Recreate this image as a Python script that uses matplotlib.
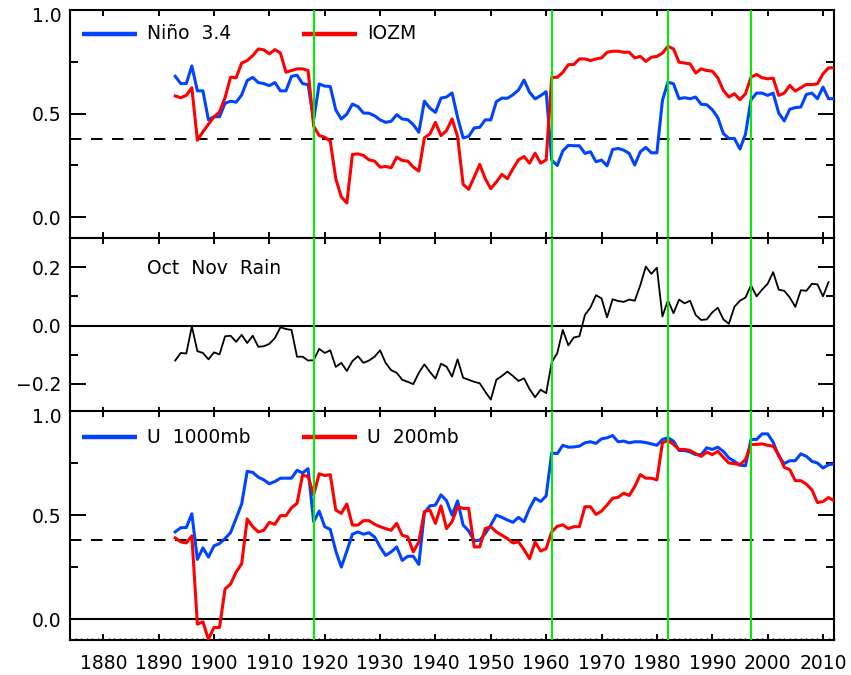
import numpy as np
import matplotlib
matplotlib.use("Agg")
import matplotlib.pyplot as plt
from matplotlib.ticker import MultipleLocator, FuncFormatter

# ---------------------------------------------------------------
# data (one value per year)
# ---------------------------------------------------------------
start_year = 1893

# top panel: Nino 3.4 and IOZM
nino34 = [0.68, 0.645, 0.645, 0.73, 0.61, 0.61, 0.47, 0.485, 0.485, 0.55,
          0.56, 0.555, 0.59, 0.66, 0.675, 0.65, 0.645, 0.635, 0.65, 0.61,
          0.61, 0.68, 0.685, 0.645, 0.64, 0.47, 0.643, 0.633, 0.631, 0.518,
          0.474, 0.498, 0.546, 0.534, 0.503, 0.502, 0.49, 0.47, 0.458, 0.463,
          0.495, 0.474, 0.471, 0.447, 0.41, 0.56, 0.527, 0.506, 0.575, 0.58,
          0.60, 0.482, 0.383, 0.39, 0.431, 0.434, 0.47, 0.47, 0.558, 0.575,
          0.574, 0.591, 0.614, 0.662, 0.603, 0.571, 0.587, 0.606, 0.275, 0.25,
          0.32, 0.347, 0.345, 0.345, 0.308, 0.316, 0.268, 0.276, 0.248, 0.327,
          0.332, 0.324, 0.308, 0.252, 0.316, 0.337, 0.311, 0.311, 0.564, 0.652,
          0.644, 0.572, 0.577, 0.572, 0.58, 0.545, 0.543, 0.519, 0.481, 0.404,
          0.38, 0.38, 0.329, 0.401, 0.567, 0.599, 0.599, 0.588, 0.599, 0.503,
          0.465, 0.521, 0.529, 0.532, 0.593, 0.599, 0.572, 0.628, 0.572, 0.572]

iozm = [0.585, 0.577, 0.588, 0.625, 0.372, 0.412, 0.449, 0.484, 0.508, 0.577,
        0.676, 0.673, 0.744, 0.756, 0.78, 0.812, 0.808, 0.788, 0.809, 0.792,
        0.70, 0.708, 0.716, 0.716, 0.708, 0.44, 0.394, 0.386, 0.367, 0.186,
        0.098, 0.069, 0.303, 0.306, 0.298, 0.277, 0.271, 0.242, 0.245, 0.239,
        0.29, 0.274, 0.271, 0.242, 0.223, 0.383, 0.402, 0.458, 0.394, 0.418,
        0.474, 0.389, 0.159, 0.135, 0.194, 0.255, 0.186, 0.138, 0.17, 0.207,
        0.186, 0.234, 0.277, 0.293, 0.261, 0.309, 0.261, 0.277, 0.675, 0.675,
        0.699, 0.736, 0.737, 0.764, 0.764, 0.756, 0.764, 0.769, 0.796, 0.801,
        0.801, 0.796, 0.796, 0.769, 0.776, 0.752, 0.772, 0.776, 0.792, 0.825,
        0.812, 0.748, 0.744, 0.74, 0.696, 0.716, 0.708, 0.705, 0.673, 0.612,
        0.58, 0.596, 0.567, 0.596, 0.676, 0.689, 0.673, 0.668, 0.671, 0.588,
        0.599, 0.636, 0.609, 0.625, 0.641, 0.64, 0.644, 0.692, 0.721, 0.721]

# middle panel: Oct Nov rain (ends one year earlier)
rain = [-0.12, -0.094, -0.096, -0.003, -0.088, -0.094, -0.116, -0.092, -0.099, -0.037,
        -0.035, -0.056, -0.032, -0.06, -0.035, -0.073, -0.071, -0.063, -0.043, -0.006,
        -0.012, -0.015, -0.107, -0.107, -0.12, -0.119, -0.08, -0.094, -0.085, -0.142,
        -0.128, -0.156, -0.122, -0.105, -0.128, -0.12, -0.107, -0.085, -0.128, -0.153,
        -0.162, -0.186, -0.193, -0.201, -0.162, -0.133, -0.159, -0.182, -0.131, -0.141,
        -0.175, -0.116, -0.179, -0.186, -0.193, -0.198, -0.227, -0.254, -0.186, -0.173,
        -0.158, -0.173, -0.19, -0.181, -0.218, -0.246, -0.22, -0.232, -0.126, -0.095,
        -0.015, -0.068, -0.041, -0.037, 0.036, 0.062, 0.104, 0.093, 0.028, 0.09,
        0.084, 0.081, 0.089, 0.085, 0.138, 0.202, 0.177, 0.198, 0.031, 0.087,
        0.042, 0.089, 0.076, 0.085, 0.036, 0.019, 0.021, 0.045, 0.061, 0.021,
        0.006, 0.064, 0.085, 0.096, 0.138, 0.1, 0.123, 0.143, 0.183, 0.123,
        0.119, 0.096, 0.064, 0.121, 0.119, 0.143, 0.141, 0.1, 0.149]

# bottom panel: zonal wind at 1000mb and 200mb
u1000 = [0.419, 0.439, 0.44, 0.506, 0.287, 0.342, 0.298, 0.352, 0.363, 0.387,
         0.416, 0.484, 0.553, 0.71, 0.705, 0.682, 0.669, 0.65, 0.661, 0.677,
         0.677, 0.677, 0.715, 0.702, 0.723, 0.468, 0.519, 0.444, 0.431, 0.327,
         0.25, 0.327, 0.408, 0.419, 0.408, 0.415, 0.395, 0.347, 0.306, 0.323,
         0.347, 0.282, 0.302, 0.302, 0.263, 0.511, 0.544, 0.548, 0.597, 0.569,
         0.5, 0.568, 0.452, 0.424, 0.376, 0.379, 0.411, 0.452, 0.5, 0.489,
         0.476, 0.465, 0.489, 0.468, 0.532, 0.581, 0.565, 0.592, 0.798, 0.795,
         0.835, 0.826, 0.827, 0.831, 0.847, 0.852, 0.844, 0.866, 0.871, 0.882,
         0.852, 0.855, 0.847, 0.852, 0.852, 0.848, 0.842, 0.835, 0.863, 0.871,
         0.855, 0.81, 0.81, 0.803, 0.79, 0.79, 0.823, 0.815, 0.826, 0.806,
         0.774, 0.758, 0.739, 0.737, 0.863, 0.863, 0.89, 0.89, 0.85, 0.782,
         0.747, 0.761, 0.761, 0.794, 0.782, 0.758, 0.75, 0.726, 0.742, 0.745]

u200 = [0.39, 0.371, 0.366, 0.4, -0.024, -0.013, -0.097, -0.04, -0.04, 0.145,
        0.169, 0.226, 0.266, 0.481, 0.444, 0.419, 0.427, 0.465, 0.455, 0.497,
        0.497, 0.535, 0.556, 0.692, 0.685, 0.597, 0.698, 0.69, 0.694, 0.524,
        0.508, 0.553, 0.452, 0.452, 0.473, 0.473, 0.456, 0.444, 0.435, 0.427,
        0.46, 0.403, 0.395, 0.323, 0.371, 0.516, 0.524, 0.46, 0.544, 0.435,
        0.468, 0.54, 0.532, 0.532, 0.347, 0.347, 0.435, 0.444, 0.419, 0.403,
        0.387, 0.366, 0.371, 0.334, 0.29, 0.371, 0.327, 0.339, 0.419, 0.446,
        0.453, 0.435, 0.444, 0.444, 0.54, 0.54, 0.503, 0.519, 0.548, 0.581,
        0.585, 0.605, 0.594, 0.637, 0.694, 0.677, 0.677, 0.669, 0.847, 0.858,
        0.839, 0.815, 0.815, 0.81, 0.795, 0.782, 0.802, 0.79, 0.806, 0.777,
        0.75, 0.747, 0.742, 0.766, 0.839, 0.839, 0.842, 0.835, 0.831, 0.79,
        0.729, 0.718, 0.665, 0.665, 0.648, 0.621, 0.56, 0.565, 0.584, 0.568]

# regime shift years (green lines) and significance level (dashed)
shift_years = [1918, 1961, 1982, 1997]
sig_level = 0.38

years = np.arange(start_year, start_year + len(nino34))
rain_years = np.arange(start_year, start_year + len(rain))

BLUE = "#0044ff"
RED = "#ff0000"
GREEN = "#00ee00"
FS = 13.5
DASH = (0, (5.9, 4.9))

plt.rcParams["font.family"] = "DejaVu Sans"

fig = plt.figure(figsize=(8.51, 6.75), dpi=100)
left, width = 0.0823, 0.8978
ax1 = fig.add_axes([left, 0.6474, width, 0.3378])
ax2 = fig.add_axes([left, 0.3881, width, 0.2593])
ax3 = fig.add_axes([left, 0.0519, width, 0.3393])


def ylabel_fmt(v, pos):
    # one decimal, real minus sign; the top label is drawn by hand below
    if v > 0.99:
        return ""
    return f"{v:.1f}".replace("-", "\u2212")


def style_axes(ax, ylim, major, minor, show_x_labels=False):
    # IDL-like box: ticks inside on all four sides
    ax.set_xlim(1874, 2012)
    ax.set_ylim(*ylim)
    ax.xaxis.set_major_locator(MultipleLocator(10))
    ax.yaxis.set_major_locator(MultipleLocator(major))
    ax.yaxis.set_minor_locator(MultipleLocator(minor))
    ax.yaxis.set_major_formatter(FuncFormatter(ylabel_fmt))
    ax.tick_params(axis="both", which="both", direction="in", width=1.4,
                   top=True, right=True, labelsize=FS, colors="black")
    ax.tick_params(axis="y", which="major", length=11.5, pad=6)
    ax.tick_params(axis="y", which="minor", length=5.5)
    ax.tick_params(axis="x", which="major", length=4.5, pad=10)
    if show_x_labels:
        ax.xaxis.set_minor_locator(MultipleLocator(1))
        ax.tick_params(axis="x", which="minor", length=1.5, width=1.0, top=False)
    else:
        ax.tick_params(axis="x", labelbottom=False)
    for sp in ax.spines.values():
        sp.set_linewidth(1.5)
    for yr in shift_years:
        ax.axvline(yr, color=GREEN, lw=1.5, zorder=4)
    if ylim[1] >= 1.0:
        # top label sits a little below the axis top, as in the original
        ax.annotate("1.0", xy=(0, 1.0), xycoords=("axes fraction", "data"),
                    xytext=(-8, -7), textcoords="offset pixels",
                    ha="right", va="center", fontsize=FS, annotation_clip=False)


def legend_entry(ax, x0, y, color, label):
    # short thick line followed by the series name
    ax.plot([x0, x0 + 0.072], [y, y], color=color, lw=3.2,
            transform=ax.transAxes, solid_capstyle="butt", clip_on=False)
    ax.text(x0 + 0.085, y, label, transform=ax.transAxes, fontsize=FS,
            va="center", ha="left")


# ---- top panel ----
style_axes(ax1, (-0.1, 1.0), 0.5, 0.25)
ax1.axhline(sig_level, color="black", lw=1.4, ls=DASH, zorder=1)
ax1.plot(years, nino34, color=BLUE, lw=2.2, zorder=3)
ax1.plot(years, iozm, color=RED, lw=2.2, zorder=3)
legend_entry(ax1, 0.0157, 0.895, BLUE, "Niño  3.4")
legend_entry(ax1, 0.3037, 0.895, RED, "IOZM")

# ---- middle panel ----
style_axes(ax2, (-0.3, 0.3), 0.2, 0.1)
ax2.axhline(0, color="black", lw=1.5, zorder=1)
ax2.plot(rain_years, rain, color="black", lw=1.3, zorder=3)
ax2.text(0.1008, 0.823, "Oct  Nov  Rain", transform=ax2.transAxes,
         fontsize=FS, va="center", ha="left")

# ---- bottom panel ----
style_axes(ax3, (-0.1, 1.0), 0.5, 0.25, show_x_labels=True)
ax3.axhline(0, color="black", lw=1.5, zorder=1)
ax3.axhline(sig_level, color="black", lw=1.4, ls=DASH, zorder=1)
ax3.plot(years, u1000, color=BLUE, lw=2.2, zorder=3)
ax3.plot(years, u200, color=RED, lw=2.2, zorder=3)
ax3.set_xticks(np.arange(1880, 2011, 10))
legend_entry(ax3, 0.0157, 0.886, BLUE, "U  1000mb")
legend_entry(ax3, 0.3037, 0.886, RED, "U  200mb")

fig.savefig("out.png", dpi=100)
